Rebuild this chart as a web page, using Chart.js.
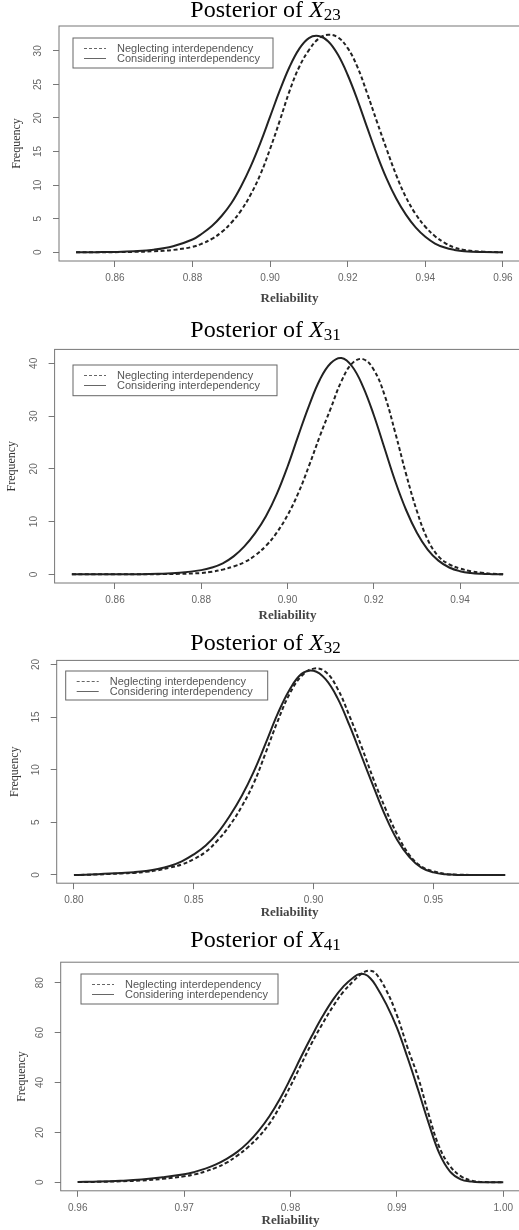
<!DOCTYPE html>
<html>
<head>
<meta charset="utf-8">
<script src="https://cdn.jsdelivr.net/npm/chart.js@4.4.1/dist/chart.umd.min.js"></script>
<style>
  html, body { margin: 0; padding: 0; background: #fff; }
  body { width: 519px; height: 1230px; overflow: hidden; position: relative; }
  canvas { position: absolute; left: 0; }
  .title {
    position: absolute; left: 0; width: 531px; text-align: center;
    font: 24px/24px "Liberation Serif", "Times New Roman", serif; color: #000; white-space: nowrap;
  }
  .title sub { font-size: 17px; vertical-align: baseline; position: relative; top: 3px; }
</style>
</head>
<body>

<canvas id="c23" width="530" height="306" style="top:0px"></canvas>
<canvas id="c31" width="530" height="317" style="top:306px"></canvas>
<canvas id="c32" width="530" height="297" style="top:623px"></canvas>
<canvas id="c41" width="530" height="308" style="top:920px"></canvas>

<div class="title" style="top:-3px">Posterior of <i>X</i><sub>23</sub></div>
<div class="title" style="top:316.6px">Posterior of <i>X</i><sub>31</sub></div>
<div class="title" style="top:630px">Posterior of <i>X</i><sub>32</sub></div>
<div class="title" style="top:926.6px">Posterior of <i>X</i><sub>41</sub></div>

<script>
// ---- data ----
const legendLabels = ['Neglecting interdependency', 'Considering interdependency'];

// X23
const reliability23 = [0.850,0.855,0.860,0.865,0.870,0.875,0.880,0.8825,0.885,0.8875,0.890,0.8925,0.895,0.8975,0.900,0.9025,0.905,0.9075,0.910,0.9125,0.915,0.9175,0.920,0.9225,0.925,0.9275,0.930,0.9325,0.935,0.9375,0.940,0.9425,0.945,0.9475,0.950,0.955,0.960];
const neglecting23 = [0,0.01,0.02,0.06,0.15,0.35,0.8,1.3,2.0,3.0,4.4,6.2,8.6,11.6,15.4,19.6,24.0,27.6,30.1,31.8,32.4,32.0,30.4,27.6,23.7,19.5,15.4,11.5,8.2,5.7,3.8,2.4,1.4,0.7,0.35,0.08,0];
const considering23 = [0,0.02,0.05,0.15,0.38,0.9,1.9,2.8,3.9,5.4,7.3,9.8,12.8,16.3,20.2,24.1,27.6,30.3,31.9,32.2,31.4,29.4,26.4,22.7,18.6,14.6,11.0,8.0,5.6,3.7,2.3,1.3,0.7,0.35,0.15,0.03,0];
const xTicks23 = [0.86,0.88,0.90,0.92,0.94,0.96];
const yTicks23 = [0,5,10,15,20,25,30];

// X31
const reliability31 = [0.850,0.855,0.860,0.865,0.870,0.875,0.880,0.8825,0.885,0.8875,0.890,0.8925,0.895,0.8975,0.900,0.9025,0.905,0.9075,0.910,0.9125,0.915,0.9175,0.920,0.9225,0.925,0.9275,0.930,0.9325,0.935,0.9375,0.940,0.9425,0.945,0.9475,0.950];
const neglecting31 = [0,0,0,0.01,0.04,0.1,0.25,0.5,0.9,1.5,2.3,3.6,5.4,7.9,11.2,15.4,20.6,26.2,31.4,36.6,40.0,40.8,38.8,34.0,26.8,19.0,12.0,6.6,3.4,1.9,1.1,0.6,0.3,0.1,0];
const considering31 = [0,0,0,0.02,0.1,0.3,0.8,1.3,2.1,3.4,5.3,7.8,11.0,15.2,20.4,26.3,32.0,36.9,40.0,41.0,39.4,35.6,30.2,23.9,17.6,12.2,7.9,4.7,2.6,1.3,0.6,0.25,0.1,0.04,0];
const xTicks31 = [0.86,0.88,0.90,0.92,0.94];
const yTicks31 = [0,10,20,30,40];

// X32
const reliability32 = [0.800,0.805,0.810,0.815,0.820,0.825,0.830,0.835,0.840,0.845,0.850,0.855,0.860,0.865,0.870,0.875,0.880,0.885,0.890,0.895,0.900,0.905,0.910,0.915,0.920,0.925,0.930,0.935,0.940,0.945,0.950,0.955,0.960,0.970,0.980];
const neglecting32 = [0,0.02,0.05,0.1,0.15,0.2,0.3,0.45,0.7,1.0,1.5,2.2,3.3,4.7,6.5,8.7,11.6,14.6,17.2,18.9,19.6,19.3,17.7,15.1,12.2,9.1,6.3,3.8,1.9,0.8,0.35,0.1,0.03,0,0];
const considering32 = [0,0.03,0.08,0.14,0.2,0.27,0.38,0.56,0.85,1.3,1.95,2.8,4.0,5.6,7.5,9.8,12.5,15.3,17.6,19.1,19.4,18.6,16.8,14.2,11.3,8.4,5.6,3.3,1.7,0.7,0.25,0.06,0.01,0,0];
const xTicks32 = [0.80,0.85,0.90,0.95];
const yTicks32 = [0,5,10,15,20];

// X41
const reliability41 = [0.960,0.962,0.964,0.966,0.968,0.970,0.971,0.972,0.973,0.974,0.975,0.976,0.977,0.978,0.979,0.980,0.981,0.982,0.983,0.984,0.985,0.986,0.9865,0.987,0.9875,0.988,0.989,0.990,0.991,0.992,0.993,0.994,0.995,0.996,0.997,0.998,1.000];
const neglecting41 = [0.1,0.2,0.4,0.75,1.4,2.4,3.2,4.4,5.9,7.9,10.7,14.1,18.2,23.4,30.4,38.6,47.2,55.8,63.5,70.5,76.5,81.0,83.0,84.4,84.8,83.8,77.0,67.0,54.0,42.0,27.0,14.0,6.5,2.5,0.7,0.15,0];
const considering41 = [0.15,0.3,0.6,1.1,2.0,3.2,4.2,5.5,7.2,9.4,12.2,15.9,20.6,26.4,33.4,41.6,50.3,58.6,66.4,73.2,78.6,82.4,83.5,83.3,81.8,79.0,71.4,62.0,50.0,37.0,23.5,11.5,4.3,1.2,0.3,0.05,0];
const xTicks41 = [0.96,0.97,0.98,0.99,1.00];
const yTicks41 = [0,20,40,60,80];


// box around the plot region, like R's box()
const frameBox = {
    id: 'frameBox',
    afterDraw(chart){
        const {ctx, chartArea} = chart;
        ctx.save();
        ctx.strokeStyle = '#777';
        ctx.lineWidth = 1;
        ctx.strokeRect(chartArea.left, chartArea.top, chartArea.right - chartArea.left, chartArea.bottom - chartArea.top);
        ctx.restore();
    }
};

// legend with a border, inside the top-left of the plot
const rLegend = {
    id: 'rLegend',
    afterDraw(chart, args, opts){
        const {ctx, chartArea} = chart;
        const x0 = chartArea.left + opts.dx;
        const y0 = chartArea.top + opts.dy;

        ctx.save();
        ctx.strokeStyle = '#666';
        ctx.lineWidth = 1;
        ctx.strokeRect(x0, y0, opts.w, opts.h);

        ctx.font = '11px "Liberation Sans", Arial, sans-serif';
        ctx.fillStyle = '#555';
        ctx.textBaseline = 'middle';

        chart.data.datasets.forEach((ds, i) => {
            const y = y0 + 10.5 + i * 10;
            ctx.strokeStyle = '#666';
            ctx.lineWidth = 1;
            ctx.setLineDash(ds.borderDash ? [3, 2] : []);
            ctx.beginPath();
            ctx.moveTo(x0 + 11, y);
            ctx.lineTo(x0 + 33, y);
            ctx.stroke();
            ctx.fillText(ds.label, x0 + 44, y);
        });
        ctx.restore();
    }
};

function makeChart(id, p){

    const H = document.getElementById(id).height;
    const W = document.getElementById(id).width;

    const neglected = p.x.map((v, i) => ({x: v, y: p.neg[i]}));
    const considered = p.x.map((v, i) => ({x: v, y: p.cons[i]}));

    return new Chart(document.getElementById(id).getContext('2d'), {
        type: 'line',
        data: {
            datasets: [{
                label: legendLabels[0],
                data: neglected,
                borderColor: '#222',
                borderWidth: 2,
                borderDash: [4, 2.5],
                pointRadius: 0,
                tension: 0.4,
                fill: false
            }, {
                label: legendLabels[1],
                data: considered,
                borderColor: '#222',
                borderWidth: 2,
                pointRadius: 0,
                tension: 0.4,
                fill: false
            }]
        },
        options: {
            responsive: false,
            animation: false,
            events: [],
            layout: {
                padding: { left: 0, top: p.top, right: W - p.right, bottom: 0 }
            },
            plugins: {
                legend: { display: false },
                tooltip: { enabled: false },
                rLegend: p.legend
            },
            scales: {
                x: {
                    type: 'linear',
                    min: p.xmin,
                    max: p.xmax,
                    afterBuildTicks: s => { s.ticks = p.xTicks.map(v => ({value: v})); },
                    afterFit: s => { s.height = H - p.bottom; },
                    grid: { drawOnChartArea: false, drawTicks: true, tickLength: 6, color: '#777' },
                    border: { display: false },
                    ticks: {
                        autoSkip: false,
                        maxRotation: 0,
                        minRotation: 0,
                        padding: 5,
                        color: '#666',
                        font: { family: '"Liberation Sans", Arial, sans-serif', size: 10 },
                        callback: v => v.toFixed(2)
                    },
                    title: {
                        display: true,
                        text: 'Reliability',
                        color: '#444',
                        font: { family: '"Liberation Serif", "Times New Roman", serif', size: 13, weight: 'bold' },
                        padding: { top: 0, bottom: 0 }
                    }
                },
                y: {
                    min: p.ymin,
                    max: p.ymax,
                    afterBuildTicks: s => { s.ticks = p.yTicks.map(v => ({value: v})); },
                    afterFit: s => { s.width = p.left; },
                    grid: { drawOnChartArea: false, drawTicks: true, tickLength: 6, color: '#777' },
                    border: { display: false },
                    ticks: {
                        autoSkip: false,
                        minRotation: 90,
                        maxRotation: 90,
                        crossAlign: 'center',
                        padding: 9,
                        color: '#666',
                        font: { family: '"Liberation Sans", Arial, sans-serif', size: 10 },
                        callback: v => String(v)
                    },
                    title: {
                        display: true,
                        text: 'Frequency',
                        color: '#333',
                        font: { family: '"Liberation Serif", "Times New Roman", serif', size: 12 },
                        padding: { top: p.yTitlePad, bottom: 0 }
                    }
                }
            }
        },
        plugins: [frameBox, rLegend]
    });
}

makeChart('c23', {
    x: reliability23, neg: neglecting23, cons: considering23,
    xTicks: xTicks23, yTicks: yTicks23,
    xmin: 0.8456, xmax: 0.9644, ymin: -1.3, ymax: 33.7,
    left: 59, right: 520, top: 26, bottom: 261, yTitlePad: 10,
    legend: { dx: 14, dy: 12, w: 200, h: 30 }
});

makeChart('c31', {
    x: reliability31, neg: neglecting31, cons: considering31,
    xTicks: xTicks31, yTicks: yTicks31,
    xmin: 0.846, xmax: 0.954, ymin: -1.64, ymax: 42.64,
    left: 54.6, right: 520.4, top: 43.4, bottom: 277, yTitlePad: 4.5,
    legend: { dx: 18.4, dy: 15.6, w: 204, h: 30.7 }
});

makeChart('c32', {
    x: reliability32, neg: neglecting32, cons: considering32,
    xTicks: xTicks32, yTicks: yTicks32,
    xmin: 0.7928, xmax: 0.9872, ymin: -0.78, ymax: 20.38,
    left: 56.7, right: 522.5, top: 37.4, bottom: 260.2, yTitlePad: 8,
    legend: { dx: 9, dy: 10.6, w: 202, h: 29 }
});

makeChart('c41', {
    x: reliability41, neg: neglecting41, cons: considering41,
    xTicks: xTicks41, yTicks: yTicks41,
    xmin: 0.9584, xmax: 1.0016, ymin: -3.39, ymax: 88.2,
    left: 60.7, right: 520.3, top: 42.2, bottom: 270.8, yTitlePad: 14.5,
    legend: { dx: 20.3, dy: 11.8, w: 197, h: 30 }
});
</script>
</body>
</html>
